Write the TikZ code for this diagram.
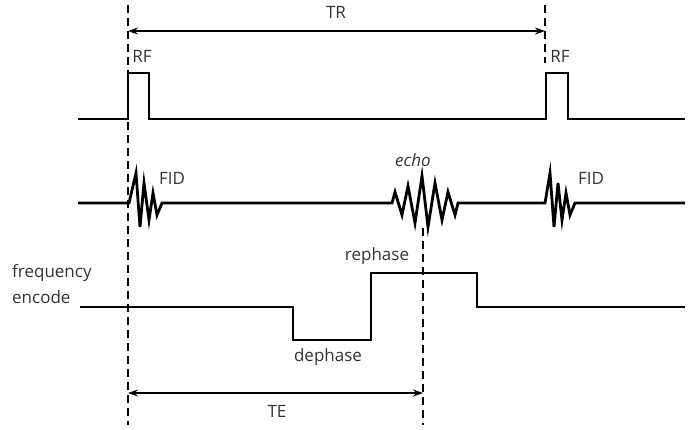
\documentclass[tikz,border=0pt]{standalone}
\usepackage{fontspec}
\setmainfont{Open Sans}
\usetikzlibrary{arrows.meta}
\definecolor{txt}{HTML}{333333}
\tikzset{
  sig/.style={line width=2.8pt, line join=miter, line cap=butt},
  guide/.style={line width=2pt, dash pattern=on 8pt off 5pt},
  span/.style={line width=1.5pt, {Stealth[length=10pt,width=7pt]}-{Stealth[length=10pt,width=7pt]}},
  lbl/.style={text=txt, font=\fontsize{17}{20}\selectfont, inner sep=0pt}
}
\begin{document}
\begin{tikzpicture}[x=1pt,y=-1pt]
\useasboundingbox (0,0) rectangle (692,429);
% guide coordinates
\coordinate (g1t) at (128,5);
\coordinate (g1b) at (128,425);
\coordinate (g2t) at (545,5);
\coordinate (g2b) at (545,63);
\coordinate (g3t) at (423,228);
\coordinate (g3b) at (423,425);
\draw[guide] (g1t) -- (g1b);
\draw[guide] (g2t) -- (g2b);
\draw[guide] (g3t) -- (g3b);
% TR
\coordinate (trL) at (128,31);
\coordinate (trR) at (545,31);
\draw[span] (trL) -- (trR);
\node[lbl] (TR) at (336,12) {TR};
% RF line
\coordinate (rf0) at (78,119);
\coordinate (rf1) at (685,119);
\draw[sig] (rf0) -- (128,119) -- (128,73) -- (149,73) -- (149,119) -- (546,119) -- (546,73) -- (568,73) -- (568,119) -- (rf1);
\node[lbl] (RF1) at (142,56) {RF};
\node[lbl] (RF2) at (560,56) {RF};
% signal line
\coordinate (s0) at (78,203);
\coordinate (s1) at (685,203);
\draw[sig] (s0) -- (129,203) -- (136,173) -- (140,227) -- (144,183) -- (149,220) -- (153,193) -- (157,215) -- (162,203)
  -- (392,203) -- (395,192) -- (402,215) -- (408,186) -- (415,223) -- (422,176) -- (428,227) -- (435,183) -- (442,220) -- (448,192) -- (455,215) -- (458,203)
  -- (545,203) -- (550,173) -- (554,227) -- (558,183) -- (562,220) -- (566,193) -- (570,215) -- (575,203) -- (s1);
\node[lbl] (FID1) at (172,178) {FID};
\node[lbl] (echo) at (413,160) {\itshape echo};
\node[lbl] (FID2) at (591,178) {FID};
% frequency encode
\coordinate (f0) at (80,307);
\coordinate (f1) at (685,307);
\draw[sig] (f0) -- (293,307) -- (293,340) -- (371,340) -- (371,273) -- (477,273) -- (477,307) -- (f1);
\node[lbl, anchor=west] (fe1) at (12,273) {frequency};
\node[lbl, anchor=west] (fe2) at (12,297) {encode};
\node[lbl] (reph) at (377,256) {rephase};
\node[lbl] (deph) at (328,357) {dephase};
% TE
\coordinate (teL) at (128,393);
\coordinate (teR) at (423,393);
\draw[span] (teL) -- (teR);
\node[lbl] (TE) at (277,411) {TE};
\end{tikzpicture}
\end{document}
